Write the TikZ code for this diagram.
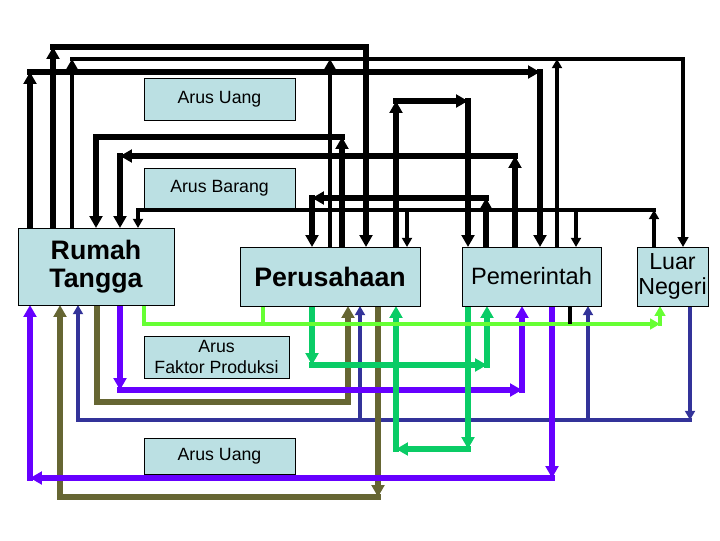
\documentclass[tikz,border=0pt]{standalone}
\usepackage{fontspec}
\setmainfont{Liberation Sans}
\usepackage{tikz}
\usetikzlibrary{arrows.meta, backgrounds}
\definecolor{BoxFill}{RGB}{187,224,227}
\definecolor{LGreen}{RGB}{102,255,51}
\definecolor{MGreen}{RGB}{10,204,102}
\definecolor{FlowViolet}{RGB}{102,0,255}
\definecolor{FlowOlive}{RGB}{102,102,51}
\definecolor{FlowNavy}{RGB}{51,51,153}

\begin{document}
\begin{tikzpicture}[
    x=0.025cm, y=-0.025cm,
    sector/.style={draw=black, fill=BoxFill, outer sep=0pt, inner sep=0pt, align=center},
    tag/.style={draw=black, fill=BoxFill, outer sep=0pt, inner sep=0pt, align=center, font=\fontsize{12.6}{15.6}\selectfont},
    flow/.style={line cap=rect, line join=miter},
    bk/.style={flow, draw=black, line width=4.3pt},
    bkm/.style={flow, draw=black, line width=3.1pt},
    bkt/.style={flow, draw=black, line width=2.5pt},
    lg/.style={flow, draw=LGreen, line width=3.1pt},
    mg/.style={flow, draw=MGreen, line width=4.3pt},
    vi/.style={flow, draw=FlowViolet, line width=4.3pt},
    ol/.style={flow, draw=FlowOlive, line width=3.8pt},
    nv/.style={flow, draw=FlowNavy, line width=2.5pt},
    tip/.style={-{Triangle[length=8.5pt,width=9pt]}},
    tipm/.style={-{Triangle[length=7pt,width=7.5pt]}},
    tips/.style={-{Triangle[length=6.5pt,width=7pt]}}
  ]
    \useasboundingbox (0,0) rectangle (720,540);

    % Sektor
    \node[sector, minimum width=3.9cm, minimum height=1.925cm, font=\bfseries\fontsize{19}{19.5}\selectfont] (rt) at (96,266.5) {Rumah\\Tangga};
    \node[sector, minimum width=4.5cm, minimum height=1.475cm, font=\bfseries\fontsize{19}{19.5}\selectfont] (per) at (330,276.5) {Perusahaan};
    \node[sector, minimum width=3.475cm, minimum height=1.475cm, font=\fontsize{16.8}{18}\selectfont] (pem) at (531.5,276.5) {Pemerintah};
    \node[sector, minimum width=1.775cm, minimum height=1.475cm, font=\fontsize{16.5}{17.8}\selectfont] (ln) at (672.5,276.5) {Luar\\Negeri};

    % Keterangan
    \node[tag, minimum width=3.775cm, minimum height=1.05cm] (au1) at (219.5,99) {Arus Uang};
    \node[tag, minimum width=3.775cm, minimum height=1.0cm] (ab) at (219.5,188) {Arus Barang};
    \node[tag, minimum width=3.625cm, minimum height=1.05cm] (afp) at (216.5,357) {Arus\\Faktor Produksi};
    \node[tag, minimum width=3.775cm, minimum height=0.9cm] (au2) at (219.5,456) {Arus Uang};

    % Titik belok
    \coordinate (a1) at (30,72);   \coordinate (a2) at (540,72);
    \coordinate (b1) at (53,47);   \coordinate (b2) at (366,47);
    \coordinate (c1) at (72,59);   \coordinate (c2) at (683,59);
    \coordinate (d1) at (342,137);
    \coordinate (e1) at (515,156); \coordinate (e2) at (120,156);
    \coordinate (f1) at (654,210); \coordinate (f2) at (138,210);
    \coordinate (g1) at (486,198); \coordinate (g2) at (312,198);
    \coordinate (h1) at (396,101); \coordinate (h2) at (468,101);
    \coordinate (lg1) at (660,324);
    \coordinate (gr1) at (312,365); \coordinate (gr2) at (487,365);
    \coordinate (gr3) at (468,449); \coordinate (gr4) at (396,449);
    \coordinate (p1) at (120,390); \coordinate (p2) at (522,390);
    \coordinate (p3) at (552,478); \coordinate (p4) at (30,478);
    \coordinate (o1) at (348,402); \coordinate (o2) at (378,497);
    \coordinate (n1) at (690,420); \coordinate (n2) at (78,420);

    \begin{scope}[on background layer]
    % Atas (hitam)
    \draw[bk,tip] (rt.north -| a1) -- (a1);
    \draw[bk,tip] (a1) -- (a2);
    \draw[bk,tip] (a2) -- (pem.north -| a2);

    \draw[bk,tip] (rt.north -| b1) -- (b1);
    \draw[bk,tip] (b1) -| (per.north -| b2);

    \draw[bkm,tipm] (rt.north -| c1) -- (c1);
    \draw[bkm,tipm] (c1) -| (ln.north -| c2);
    \draw[bkm,tipm] (per.north -| 330,0) -- (c1 -| 330,0);
    \draw[bkt,tips] (pem.north -| 557,0) -- (c1 -| 557,0);

    \draw[bk,tip] (per.north -| d1) -- (d1);
    \draw[bk,tip] (d1) -| (rt.north -| 96,0);

    \draw[bk,tip] (pem.north -| e1) -- (e1);
    \draw[bk,tip] (e1) -- (e2);
    \draw[bk,tip] (e2) -- (rt.north -| e2);

    \draw[bkt,tips] (ln.north -| f1) -- (f1);
    \draw[bkt,tips] (f1) -| (rt.north -| f2);
    \draw[bkt,tips] (f2 -| 407,0) -- (per.north -| 407,0);
    \draw[bkt,tips] (f2 -| 576,0) -- (pem.north -| 576,0);

    \draw[bk,tip] (pem.north -| g1) -- (g1);
    \draw[bk,tip] (g1) -- (g2);
    \draw[bk,tip] (g2) -- (per.north -| g2);

    \draw[bk,tip] (per.north -| h1) -- (h1);
    \draw[bk,tip] (h1) -- (h2);
    \draw[bk,tip] (h2) -- (pem.north -| h2);

    % Bawah (warna)
    \draw[nv,tips] (ln.south -| n1) -- (n1);
    \draw[nv,tips] (n1) -| (rt.south -| n2);
    \draw[nv,tips] (n2 -| 360,0) -- (per.south -| 360,0);
    \draw[nv,tips] (n2 -| 588,0) -- (pem.south -| 588,0);

    \draw[ol,tip] (rt.south -| 97,0) |- (o1) -- (per.south -| o1);
    \draw[ol,tip] (per.south -| o2) -- (o2);
    \draw[ol,tip] (o2) -| (rt.south -| 60,0);

    \draw[vi,tip] (rt.south -| p1) -- (p1);
    \draw[vi,tip] (p1) -- (p2);
    \draw[vi,tip] (p2) -- (pem.south -| p2);
    \draw[vi,tip] (pem.south -| p3) -- (p3);
    \draw[vi,tip] (p3) -- (p4);
    \draw[vi,tip] (p4) -- (rt.south -| p4);

    \draw[mg,tip] (per.south -| gr1) -- (gr1);
    \draw[mg,tip] (gr1) -- (gr2);
    \draw[mg,tip] (gr2) -- (pem.south -| gr2);
    \draw[mg,tip] (pem.south -| gr3) -- (gr3);
    \draw[mg,tip] (gr3) -- (gr4);
    \draw[mg,tip] (gr4) -- (per.south -| gr4);

    \draw[lg,tipm] (rt.south -| 144,0) |- (lg1);
    \draw[lg] (per.south -| 263,0) -- (lg1 -| 263,0);
    \draw[lg,tipm] (lg1) -- (ln.south -| lg1);

    \draw[bkt] (pem.south -| 570,0) -- ++(0,16);
    \end{scope}
\end{tikzpicture}
\end{document}
